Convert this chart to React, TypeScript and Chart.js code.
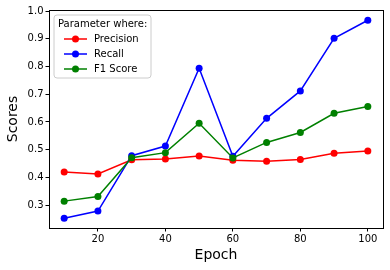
import React, { useEffect, useRef } from "react";
import { Chart, registerables } from "chart.js";

Chart.register(...registerables);

const epochs = [10, 20, 30, 40, 50, 60, 70, 80, 90, 100];
const precision = [0.419, 0.412, 0.463, 0.466, 0.477, 0.462, 0.458, 0.464, 0.487, 0.495];
const recall = [0.252, 0.278, 0.478, 0.513, 0.794, 0.476, 0.613, 0.712, 0.902, 0.967];
const f1 = [0.314, 0.331, 0.471, 0.489, 0.595, 0.470, 0.526, 0.562, 0.631, 0.656];
const seriesNames = ["Precision", "Recall", "F1 Score"];
const seriesColors = ["#ff0000", "#0000ff", "#008000"];
const xTicks = [20, 40, 60, 80, 100];
const yTicks = [0.3, 0.4, 0.5, 0.6, 0.7, 0.8, 0.9, 1.0];
const legendTitle = "Parameter where:";
const xTitle = "Epoch";
const yTitle = "Scores";

const FONT = "'DejaVu Sans', sans-serif";

const framePlugin = {
  id: "frame",
  afterDatasetsDraw(chart: any) {
    const { ctx, chartArea: a } = chart;
    ctx.save();
    ctx.strokeStyle = "#000";
    ctx.lineWidth = 1;
    ctx.strokeRect(Math.round(a.left) + 0.5, Math.round(a.top) + 0.5, Math.round(a.right - a.left), Math.round(a.bottom - a.top));
    ctx.restore();
  },
};

const legendPlugin = {
  id: "mplLegend",
  afterDraw(chart: any) {
    const { ctx, chartArea: a } = chart;
    const x0 = a.left + 5;
    const y0 = a.top + 5;
    const w = 97;
    const h = 63;
    ctx.save();
    ctx.beginPath();
    const r = 3;
    ctx.moveTo(x0 + r, y0);
    ctx.arcTo(x0 + w, y0, x0 + w, y0 + h, r);
    ctx.arcTo(x0 + w, y0 + h, x0, y0 + h, r);
    ctx.arcTo(x0, y0 + h, x0, y0, r);
    ctx.arcTo(x0, y0, x0 + w, y0, r);
    ctx.closePath();
    ctx.fillStyle = "rgba(255,255,255,0.8)";
    ctx.fill();
    ctx.strokeStyle = "#cccccc";
    ctx.lineWidth = 1;
    ctx.stroke();
    ctx.font = `10px ${FONT}`;
    ctx.fillStyle = "#000";
    ctx.textBaseline = "middle";
    ctx.textAlign = "left";
    ctx.fillText(legendTitle, x0 + 4, y0 + 9);
    chart.data.datasets.forEach((ds: any, i: number) => {
      const yy = y0 + 24 + i * 15;
      ctx.strokeStyle = ds.borderColor;
      ctx.lineWidth = 1.5;
      ctx.beginPath();
      ctx.moveTo(x0 + 10, yy);
      ctx.lineTo(x0 + 33, yy);
      ctx.stroke();
      ctx.fillStyle = ds.borderColor;
      ctx.beginPath();
      ctx.arc(x0 + 21.5, yy, 3.5, 0, Math.PI * 2);
      ctx.fill();
      ctx.fillStyle = "#000";
      ctx.fillText(ds.label, x0 + 40, yy);
    });
    ctx.restore();
  },
};

export default function App() {
  const ref = useRef<HTMLCanvasElement>(null);
  useEffect(() => {
    document.body.style.margin = "0";
    const series = [precision, recall, f1];
    const chart = new Chart(ref.current!, {
      type: "line",
      data: {
        datasets: series.map((vals, i) => ({
          label: seriesNames[i],
          data: epochs.map((e, j) => ({ x: e, y: vals[j] })),
          borderColor: seriesColors[i],
          backgroundColor: seriesColors[i],
          borderWidth: 1.5,
          pointRadius: 3.5,
          pointBorderWidth: 0,
          pointBackgroundColor: seriesColors[i],
          fill: false,
          tension: 0,
          order: 2 - i,
        })),
      },
      options: {
        animation: false,
        responsive: false,
        layout: { padding: { left: 0, top: 10, right: 7, bottom: 0 } },
        plugins: { legend: { display: false }, tooltip: { enabled: false } },
        scales: {
          x: {
            type: "linear",
            min: 5.5,
            max: 104.5,
            afterBuildTicks: (s: any) => {
              s.ticks = xTicks.map((v) => ({ value: v }));
            },
            afterFit: (s: any) => {
              s.height = 42;
            },
            ticks: {
              color: "#000",
              font: { family: FONT, size: 10 },
              padding: 2,
              maxRotation: 0,
              callback: (v: any) => String(v),
            },
            grid: { display: true, drawOnChartArea: false, drawTicks: true, tickLength: 3.5, color: "#000" },
            border: { display: false },
            title: { display: true, text: xTitle, color: "#000", font: { family: FONT, size: 14 }, padding: { top: 2, bottom: 6.5 } },
          },
          y: {
            type: "linear",
            min: 0.217,
            max: 1.004,
            afterBuildTicks: (s: any) => {
              s.ticks = yTicks.map((v) => ({ value: v }));
            },
            afterFit: (s: any) => {
              s.width = 49;
            },
            ticks: {
              color: "#000",
              font: { family: FONT, size: 10 },
              padding: 2,
              callback: (v: any) => Number(v).toFixed(1),
            },
            grid: { display: true, drawOnChartArea: false, drawTicks: true, tickLength: 3.5, color: "#000" },
            border: { display: false },
            title: { display: true, text: yTitle, color: "#000", font: { family: FONT, size: 14 }, padding: { top: 5, bottom: 2 } },
          },
        },
      },
      plugins: [framePlugin, legendPlugin],
    } as any);
    return () => chart.destroy();
  }, []);
  return (
    <div style={{ width: 390, height: 270 }}>
      <canvas ref={ref} width={390} height={270} style={{ display: "block" }} />
    </div>
  );
}
